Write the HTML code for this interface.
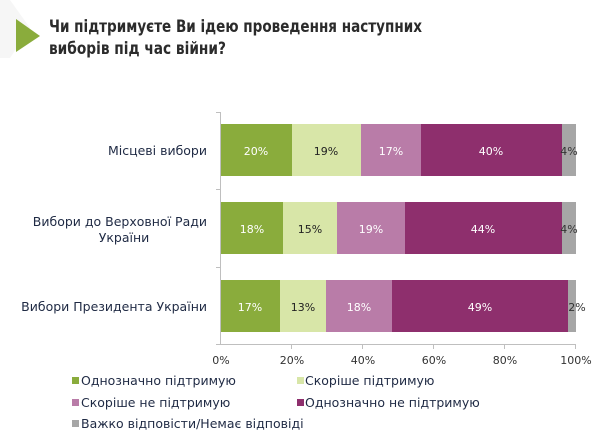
<!DOCTYPE html>
<html><head><meta charset="utf-8"><style>
html,body{margin:0;padding:0;background:#fff;}
svg{display:block;}
text{font-family:"DejaVu Sans","Liberation Sans",sans-serif;}
</style></head><body>
<svg width="608" height="434" viewBox="0 0 608 434" xmlns="http://www.w3.org/2000/svg">
<polygon points="0,0 10,0 30,28 10,58 0,58" fill="#f6f6f6"/>
<polygon points="16,19 40,36 16,52" fill="#8aac3c"/>
<text x="49" y="32" font-size="16.5" font-weight="bold" fill="#2b2b2b" textLength="373" lengthAdjust="spacingAndGlyphs">Чи підтримуєте Ви ідею проведення наступних</text>
<text x="49" y="54" font-size="16.5" font-weight="bold" fill="#2b2b2b" textLength="177" lengthAdjust="spacingAndGlyphs">виборів під час війни?</text>

<g stroke="#bfbfbf" stroke-width="1">
<line x1="220.5" y1="112" x2="220.5" y2="344"/>
<line x1="216" y1="112.5" x2="220.5" y2="112.5"/>
<line x1="216" y1="189.5" x2="220.5" y2="189.5"/>
<line x1="216" y1="267.5" x2="220.5" y2="267.5"/>
<line x1="216" y1="344.5" x2="220.5" y2="344.5"/>
<line x1="220.5" y1="344.5" x2="576" y2="344.5"/>
<line x1="291.5" y1="344" x2="291.5" y2="349"/>
<line x1="362.5" y1="344" x2="362.5" y2="349"/>
<line x1="433.5" y1="344" x2="433.5" y2="349"/>
<line x1="504.5" y1="344" x2="504.5" y2="349"/>
<line x1="575.5" y1="344" x2="575.5" y2="349"/>
</g>

<g>
<rect x="221" y="124" width="71" height="52" fill="#8aac3c"/>
<rect x="292" y="124" width="69" height="52" fill="#d8e6a8"/>
<rect x="361" y="124" width="60" height="52" fill="#b97ca8"/>
<rect x="421" y="124" width="141" height="52" fill="#8e2f6d"/>
<rect x="562" y="124" width="14" height="52" fill="#a6a6a6"/>

<rect x="221" y="202" width="62" height="52" fill="#8aac3c"/>
<rect x="283" y="202" width="54" height="52" fill="#d8e6a8"/>
<rect x="337" y="202" width="68" height="52" fill="#b97ca8"/>
<rect x="405" y="202" width="157" height="52" fill="#8e2f6d"/>
<rect x="562" y="202" width="14" height="52" fill="#a6a6a6"/>

<rect x="221" y="280" width="59" height="52" fill="#8aac3c"/>
<rect x="280" y="280" width="46" height="52" fill="#d8e6a8"/>
<rect x="326" y="280" width="66" height="52" fill="#b97ca8"/>
<rect x="392" y="280" width="176" height="52" fill="#8e2f6d"/>
<rect x="568" y="280" width="8" height="52" fill="#a6a6a6"/>
</g>

<g font-size="11" text-anchor="middle">
<text x="256" y="155" fill="#fff">20%</text>
<text x="326" y="155" fill="#222">19%</text>
<text x="391" y="155" fill="#fff">17%</text>
<text x="491" y="155" fill="#fff">40%</text>
<text x="569" y="155" fill="#333">4%</text>
<text x="252" y="233" fill="#fff">18%</text>
<text x="310" y="233" fill="#222">15%</text>
<text x="371" y="233" fill="#fff">19%</text>
<text x="483" y="233" fill="#fff">44%</text>
<text x="569" y="233" fill="#333">4%</text>
<text x="250" y="311" fill="#fff">17%</text>
<text x="303" y="311" fill="#222">13%</text>
<text x="359" y="311" fill="#fff">18%</text>
<text x="480" y="311" fill="#fff">49%</text>
<text x="577" y="311" fill="#333">2%</text>
</g>

<g font-size="12.5" fill="#1f2a44" text-anchor="end">
<text x="207" y="155">Місцеві вибори</text>
<text x="207" y="226">Вибори до Верховної Ради</text>
<text x="124" y="242" text-anchor="middle">України</text>
<text x="207" y="311">Вибори Президента України</text>
</g>

<g font-size="11" fill="#333" text-anchor="middle">
<text x="221" y="364">0%</text>
<text x="292" y="364">20%</text>
<text x="363" y="364">40%</text>
<text x="434" y="364">60%</text>
<text x="505" y="364">80%</text>
<text x="576" y="364">100%</text>
</g>

<g font-size="12.5" fill="#1f2a44">
<rect x="72" y="377" width="7" height="7" fill="#8aac3c"/>
<text x="81" y="385">Однозначно підтримую</text>
<rect x="297" y="377" width="7" height="7" fill="#d8e6a8"/>
<text x="305" y="385">Скоріше підтримую</text>
<rect x="72" y="399" width="7" height="7" fill="#b97ca8"/>
<text x="81" y="407">Скоріше не підтримую</text>
<rect x="297" y="399" width="7" height="7" fill="#8e2f6d"/>
<text x="305" y="407">Однозначно не підтримую</text>
<rect x="72" y="420" width="7" height="7" fill="#a6a6a6"/>
<text x="81" y="428">Важко відповісти/Немає відповіді</text>
</g>
</svg>
</body></html>
